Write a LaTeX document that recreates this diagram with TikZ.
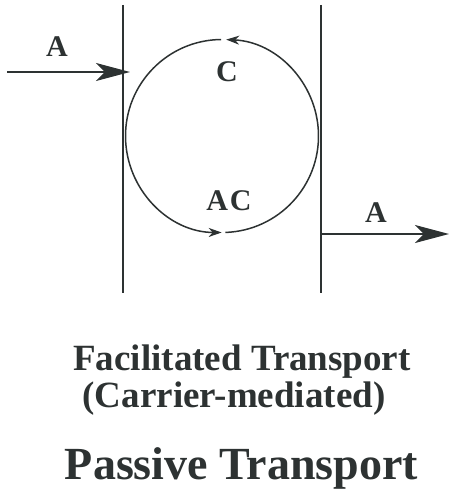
\documentclass[tikz,border=0pt]{standalone}
\usepackage{fontspec}
\setmainfont{Liberation Serif}
\usetikzlibrary{arrows.meta}
\definecolor{ink}{RGB}{45,50,50}
\begin{document}
\begin{tikzpicture}[x=1pt,y=-1pt,
 membrane/.style={draw=ink,line width=2pt},
 flux/.style={draw=ink,line width=1.6pt,-{Stealth[length=34pt,width=18pt,inset=9pt]}},
 cyclearrow/.style={draw=ink,line width=1.5pt,-{Stealth[length=13pt,width=9pt,inset=4pt]}},
 lbl/.style={text=ink,font=\bfseries\fontsize{30}{30}\selectfont,inner sep=0pt},
 capt/.style={text=ink,font=\bfseries\fontsize{37}{40}\selectfont,inner sep=0pt,anchor=base}]
\useasboundingbox (0,0) rectangle (453,492);
% membranes
\coordinate (mLtop) at (122.7,5);
\coordinate (mLbot) at (122.7,293);
\coordinate (mRtop) at (320.7,5);
\coordinate (mRbot) at (320.7,293);
\draw[membrane] (mLtop) -- (mLbot);
\draw[membrane] (mRtop) -- (mRbot);
% carrier cycle
\coordinate (ctr) at (222,136);
\draw[cyclearrow] ([shift={(88:96.5)}]ctr) arc[start angle=88,end angle=-87.5,radius=96.5];
\draw[cyclearrow] ([shift={(-90.5:96.5)}]ctr) arc[start angle=-90.5,end angle=-269.8,radius=96.5];
% fluxes
\coordinate (inStart) at (7,72);
\coordinate (inEnd) at (130,72);
\draw[flux] (inStart) -- (inEnd);
\coordinate (outStart) at (321,234);
\coordinate (outEnd) at (449,234);
\draw[flux] (outStart) -- (outEnd);
% labels
\node[lbl] (Ain) at (57,47) {A};
\node[lbl] (C) at (227,72) {C};
\node[lbl] (AC) at (229,201) {A\kern2pt C};
\node[lbl] (Aout) at (376,213) {A};
% captions
\node[capt] (fac) at (242,370) {Facilitated Transport};
\node[capt] (car) at (234,407) {(Carrier-mediated)};
\node[capt,font=\bfseries\fontsize{46}{48}\selectfont] (pas) at (241.5,479) {Passive Transport};
\end{tikzpicture}
\end{document}
